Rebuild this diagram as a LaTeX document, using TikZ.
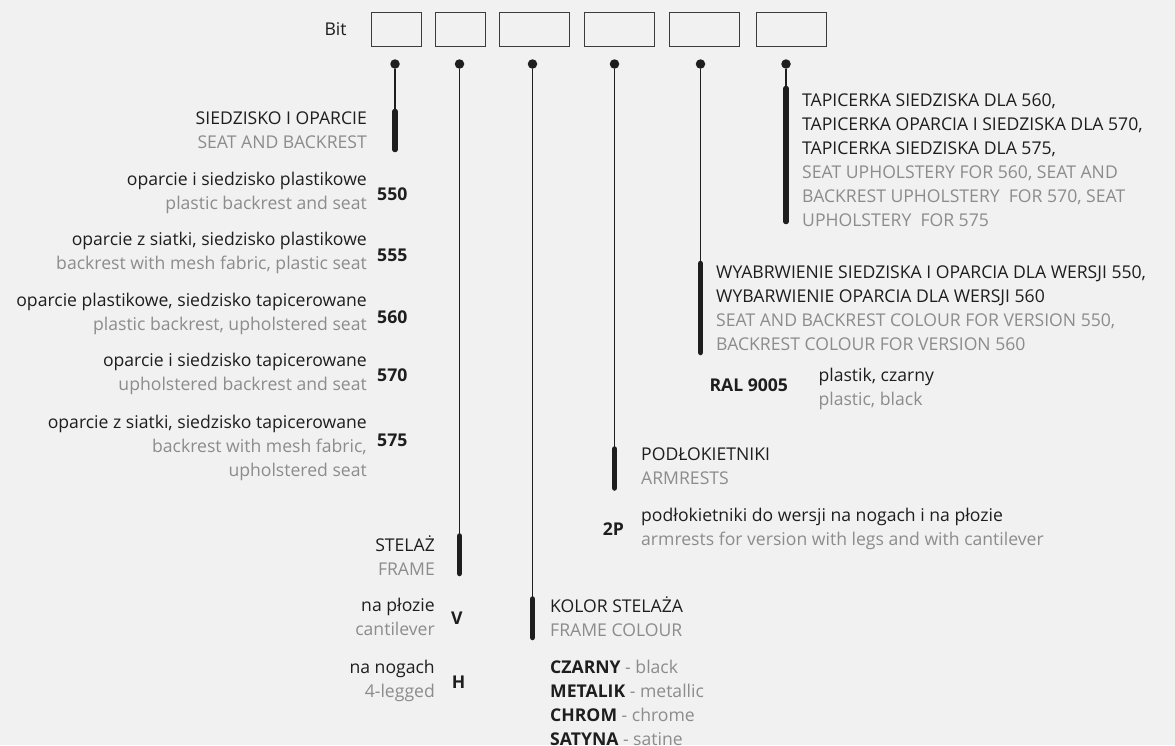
\documentclass[tikz,border=0pt]{standalone}
\usepackage{fontspec}
\setmainfont{Open Sans}
\usetikzlibrary{positioning}

\definecolor{bgc}{HTML}{F1F1F1}
\definecolor{ink}{HTML}{1E1E1E}
\definecolor{en}{HTML}{8C8C8C}
\definecolor{frameline}{HTML}{3C3C3C}

\newcommand{\st}{\rule{0pt}{20pt}}
\newcommand{\eng}[1]{\textcolor{en}{#1}}

\begin{document}
\begin{tikzpicture}[x=1pt,y=-1pt,
    every node/.style={font=\fontsize{17.6}{24}\selectfont, text=ink, inner sep=0pt},
    field/.style={draw=frameline, line width=1.1pt, minimum height=34pt},
    dot/.style={circle, fill=ink, minimum size=9.5pt},
    wire/.style={line width=1.3pt, draw=ink},
    bar/.style={line width=5.5pt, line cap=round, draw=ink},
    lft/.style={anchor=north east, align=right},
    rgt/.style={anchor=north west, align=left},
    code/.style={font=\fontsize{17.6}{24}\selectfont\bfseries, anchor=base west}]

    \fill[bgc] (0,0) rectangle (1175,745);
    \useasboundingbox (0,0) rectangle (1175,745);

    % code fields
    \node[field, minimum width=50pt] (k1) at (396.4,29.5) {};
    \node[field, minimum width=50pt, right=13pt of k1] (k2) {};
    \node[field, minimum width=70pt, right=13pt of k2] (k3) {};
    \node[field, minimum width=70pt, right=13.5pt of k3] (k4) {};
    \node[field, minimum width=70pt, right=14.5pt of k4] (k5) {};
    \node[field, minimum width=70pt, right=15.5pt of k5] (k6) {};
    \node[left=24pt of k1] (bit) {Bit};

    \node[dot] (d1) at (395,64) {};
    \node[dot] (d2) at (459.5,64) {};
    \node[dot] (d3) at (532.5,64) {};
    \node[dot] (d4) at (614.5,64) {};
    \node[dot] (d5) at (700.5,64) {};
    \node[dot] (d6) at (786,64) {};

    \coordinate (t1) at (395,111.5);   \coordinate (u1) at (395,149.5);
    \coordinate (t2) at (459.5,536);   \coordinate (u2) at (459.5,573.5);
    \coordinate (t3) at (532.5,599);   \coordinate (u3) at (532.5,637.5);
    \coordinate (t4) at (614.5,449);   \coordinate (u4) at (614.5,488);
    \coordinate (t5) at (700.5,263.5); \coordinate (u5) at (700.5,352.5);
    \coordinate (t6) at (786,88.5);    \coordinate (u6) at (786,221.5);

    \draw[wire] (d1) -- (u1);
    \draw[wire] (d2) -- (u2);
    \draw[wire] (d3) -- (u3);
    \draw[wire] (d4) -- (u4);
    \draw[wire] (d5) -- (u5);
    \draw[wire] (d6) -- (u6);
    \draw[bar] (t1) -- (u1);
    \draw[bar] (t2) -- (u2);
    \draw[bar] (t3) -- (u3);
    \draw[bar] (t4) -- (u4);
    \draw[bar] (t5) -- (u5);
    \draw[bar] (t6) -- (u6);

    % seat and backrest
    \node[lft] (seat) at (367,104) {\st SIEDZISKO I OPARCIE\\ \eng{SEAT AND BACKREST}};
    \node[lft] (s550) at (367,165) {\st oparcie i siedzisko plastikowe\\ \eng{plastic backrest and seat}};
    \node[lft] (s555) at (367,225.7) {\st oparcie z siatki, siedzisko plastikowe\\ \eng{backrest with mesh fabric, plastic seat}};
    \node[lft] (s560) at (367,286) {\st oparcie plastikowe, siedzisko tapicerowane\\ \eng{plastic backrest, upholstered seat}};
    \node[lft] (s570) at (367,346.7) {\st oparcie i siedzisko tapicerowane\\ \eng{upholstered backrest and seat}};
    \node[lft] (s575) at (367,408.3) {\st oparcie z siatki, siedzisko tapicerowane\\ \eng{backrest with mesh fabric,}\\ \eng{upholstered seat}};
    \node[code] (n550) at (377,200) {550};
    \node[code] (n555) at (377,261) {555};
    \node[code] (n560) at (377,323.3) {560};
    \node[code] (n570) at (377,381.7) {570};
    \node[code] (n575) at (377,446) {575};

    % frame
    \node[lft] (frame) at (435,531) {\st STELAŻ\\ \eng{FRAME}};
    \node[lft] (fv) at (435,591.7) {\st na płozie\\ \eng{cantilever}};
    \node[lft] (fh) at (435,653.3) {\st na nogach\\ \eng{4-legged}};
    \node[code] (nv) at (451,624) {V};
    \node[code] (nh) at (451.7,688.3) {H};

    % frame colour
    \node[rgt] (colour) at (550,592.7) {\st KOLOR STELAŻA\\ \eng{FRAME COLOUR}};
    \node[rgt] (colours) at (550,653.3) {\st \textbf{CZARNY} \eng{- black}\\
        \textbf{METALIK} \eng{- metallic}\\
        \textbf{CHROM} \eng{- chrome}\\
        \textbf{SATYNA} \eng{- satine}};

    % armrests
    \node[rgt] (arm) at (641,440.7) {\st PODŁOKIETNIKI\\ \eng{ARMRESTS}};
    \node[rgt] (arm2p) at (641,501.7) {\st podłokietniki do wersji na nogach i na płozie\\ \eng{armrests for version with legs and with cantilever}};
    \node[code] (n2p) at (602.7,535.7) {2P};

    % plastic colour
    \node[rgt] (tint) at (716,258.3) {\st WYABRWIENIE SIEDZISKA I OPARCIA DLA WERSJI 550,\\
        WYBARWIENIE OPARCIA DLA WERSJI 560\\
        \eng{SEAT AND BACKREST COLOUR FOR VERSION 550,}\\
        \eng{BACKREST COLOUR FOR VERSION 560}};
    \node[code] (ral) at (709.3,391.7) {RAL 9005};
    \node[rgt] (black) at (818.3,361.7) {\st plastik, czarny\\ \eng{plastic, black}};

    % upholstery
    \node[rgt] (uph) at (802,86) {\st TAPICERKA SIEDZISKA DLA 560,\\
        TAPICERKA OPARCIA I SIEDZISKA DLA 570,\\
        TAPICERKA SIEDZISKA DLA 575,\\
        \eng{SEAT UPHOLSTERY FOR 560, SEAT AND}\\
        \eng{BACKREST UPHOLSTERY\ \ FOR 570, SEAT}\\
        \eng{UPHOLSTERY\ \ FOR 575}};

\end{tikzpicture}
\end{document}
